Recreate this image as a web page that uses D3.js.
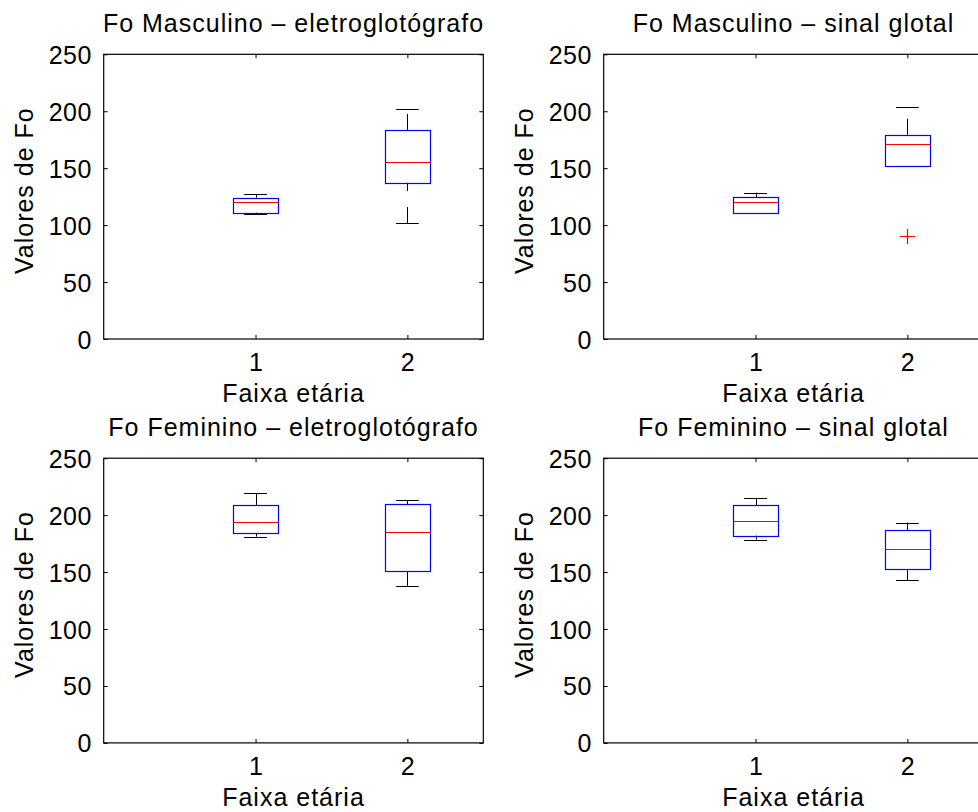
<!DOCTYPE html>
<html>
<head>
<meta charset="utf-8">
<script src="https://cdn.jsdelivr.net/npm/d3@7"></script>
<style>
  html, body { margin: 0; padding: 0; background: #fff; overflow: hidden; }
  svg { display: block; }
  text { font-family: "Liberation Sans", Arial, Helvetica, sans-serif; fill: #000; }
</style>
</head>
<body>
<svg id="chart" width="978" height="812"></svg>
<script>
// Age groups on the x axis
const categories = [1, 2];
const yTicks = [0, 50, 100, 150, 200, 250];
const xLabel = "Faixa etária";
const yLabel = "Valores de Fo";

// Box statistics per age group: whisker low, Q1, median, Q3, whisker high
const mascEletro = [
  { lo: 110.0, q1: 110.9, med: 120.5, q3: 124.1, hi: 127.0 },
  { lo: 101.8, q1: 137.2, med: 155.7, q3: 183.5, hi: 201.7 }
];
const mascSinal = [
  { lo: 110.9, q1: 110.9, med: 120.3, q3: 124.7, hi: 128.5 },
  { lo: 152.1, q1: 152.1, med: 171.5, q3: 179.4, hi: 204.0 }
];
const femEletro = [
  { lo: 181.1, q1: 184.3, med: 194.4, q3: 208.5, hi: 219.3 },
  { lo: 137.9, q1: 150.8, med: 185.2, q3: 209.6, hi: 212.9 }
];
const femSinal = [
  { lo: 178.5, q1: 182.0, med: 194.9, q3: 208.5, hi: 215.2 },
  { lo: 142.9, q1: 152.6, med: 170.5, q3: 187.0, hi: 193.5 }
];

// Outliers: [group, value]
const mascEletroOut = [];
const mascSinalOut = [[2, 90.2]];
const femEletroOut = [];
const femSinalOut = [];

const titles = [
  "Fo Masculino \u2013 eletroglotógrafo",
  "Fo Masculino \u2013 sinal glotal",
  "Fo Feminino \u2013 eletroglotógrafo",
  "Fo Feminino \u2013 sinal glotal"
];

const panels = [
  { title: titles[0], stats: mascEletro, out: mascEletroOut, left: 103.7, top: 54.3 },
  { title: titles[1], stats: mascSinal,  out: mascSinalOut,  left: 603.7, top: 54.3 },
  { title: titles[2], stats: femEletro,  out: femEletroOut,  left: 103.7, top: 458.2 },
  { title: titles[3], stats: femSinal,   out: femSinalOut,   left: 603.7, top: 458.2 }
];

const W = 379.6, H = 284.7;
const FONT = 25;
const svg = d3.select("#chart");

panels.forEach(p => {
  const g = svg.append("g").attr("transform", `translate(${p.left},${p.top})`);
  const x = d3.scaleLinear().domain([0, 2.5]).range([0, W]);
  const y = d3.scaleLinear().domain([0, 250]).range([H, 0]);
  // snap a local coordinate to the centre of a device pixel
  const snapX = v => Math.round(p.left + v) + 0.5 - p.left;
  const snapY = v => Math.round(p.top + v) + 0.5 - p.top;

  // Axes with inward ticks on all four sides
  const axL = d3.axisLeft(y).tickValues(yTicks).tickSizeInner(-4).tickSizeOuter(0).tickPadding(12);
  const axR = d3.axisRight(y).tickValues(yTicks).tickSizeInner(-4).tickSizeOuter(0).tickFormat("");
  const axB = d3.axisBottom(x).tickValues(categories).tickSizeInner(-4).tickSizeOuter(0).tickPadding(14).tickFormat(d3.format("d"));
  const axT = d3.axisTop(x).tickValues(categories).tickSizeInner(-4).tickSizeOuter(0).tickFormat("");

  const styleAxis = sel => {
    sel.select(".domain").remove();
    sel.selectAll("line").attr("stroke", "#000").attr("stroke-width", 1);
    sel.selectAll("text").style("font-size", FONT + "px").style("letter-spacing", "0.4px").attr("fill", "#000");
  };
  g.append("g").call(axL).call(styleAxis);
  g.append("g").attr("transform", `translate(${W},0)`).call(axR).call(styleAxis);
  g.append("g").attr("transform", `translate(0,${H})`).call(axB).call(styleAxis);
  g.append("g").call(axT).call(styleAxis);

  g.select("g").selectAll(".tick text").attr("dy", "0.36em");

  // Frame
  g.append("rect").attr("x", 0).attr("y", 0).attr("width", W).attr("height", H)
    .attr("fill", "none").attr("stroke", "#000").attr("stroke-width", 1.2);

  // Boxes
  const boxHalf = 0.15, capHalf = 0.075;
  p.stats.forEach((s, i) => {
    const c = categories[i];
    const cx = snapX(x(c));
    const bx = g.append("g");
    // dashed whiskers, drawn from the lower value upward
    [[s.lo, s.q1], [s.q3, s.hi]].forEach(([a, b]) => {
      if (b > a) {
        bx.append("line")
          .attr("x1", cx).attr("x2", cx)
          .attr("y1", y(a)).attr("y2", y(b))
          .attr("stroke", "#000").attr("stroke-width", 1)
          .attr("stroke-dasharray", "16,16");
      }
    });
    // whisker caps
    [s.lo, s.hi].forEach(v => {
      bx.append("line")
        .attr("x1", x(c - capHalf)).attr("x2", x(c + capHalf))
        .attr("y1", snapY(y(v))).attr("y2", snapY(y(v)))
        .attr("stroke", "#000").attr("stroke-width", 1);
    });
    // box
    const x0 = snapX(x(c - boxHalf)), x1 = snapX(x(c + boxHalf));
    const yTop = snapY(y(s.q3)), yBot = snapY(y(s.q1));
    bx.append("rect")
      .attr("x", x0).attr("width", x1 - x0)
      .attr("y", yTop).attr("height", yBot - yTop)
      .attr("fill", "none").attr("stroke", "#0000ff").attr("stroke-width", 1.2);
    // median
    const ym = snapY(y(s.med));
    bx.append("line")
      .attr("x1", x0).attr("x2", x1)
      .attr("y1", ym).attr("y2", ym)
      .attr("stroke", "#ff0000").attr("stroke-width", 1.2);
  });

  // Outlier markers
  p.out.forEach(([c, v]) => {
    const px = snapX(x(c)), py = snapY(y(v)), r = 7.5;
    g.append("path")
      .attr("d", `M${px - r},${py}H${px + r}M${px},${py - r}V${py + r}`)
      .attr("stroke", "#ff0000").attr("stroke-width", 1.2).attr("fill", "none");
  });

  // Title and axis labels
  const label = (sel) => sel.attr("text-anchor", "middle")
    .style("font-size", FONT + "px").style("letter-spacing", "1px");
  g.append("text").attr("x", W / 2).attr("y", -22.6).call(label).text(p.title);
  g.append("text").attr("x", W / 2).attr("y", H + 63.2).call(label).text(xLabel);
  g.append("text")
    .attr("transform", `translate(-70.4,${H / 2 - 6}) rotate(-90)`)
    .call(label).text(yLabel);
});
</script>
</body>
</html>
